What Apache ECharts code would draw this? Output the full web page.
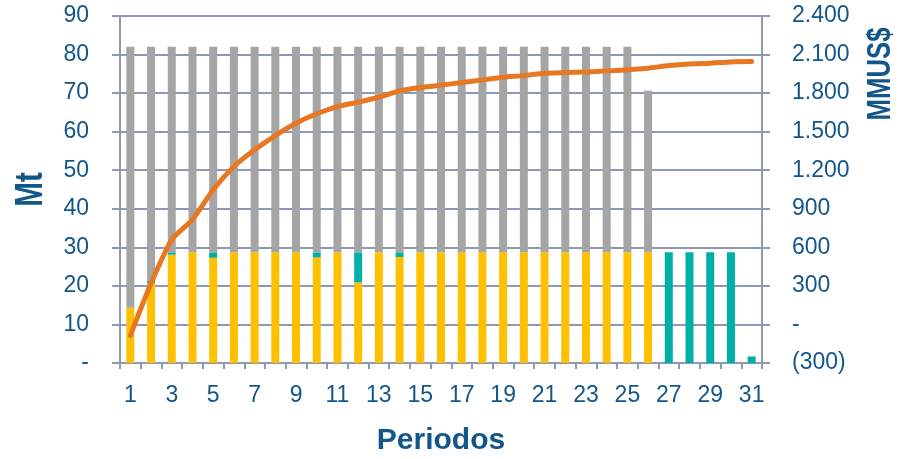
<!DOCTYPE html>
<html>
<head>
<meta charset="utf-8">
<script src="https://cdn.jsdelivr.net/npm/echarts@6/dist/echarts.min.js"></script>
<style>
html,body{margin:0;padding:0;background:#fff;}
#c{width:912px;height:459px;}
</style>
</head>
<body>
<div id="c"></div>
<script>
var periods = ['1','2','3','4','5','6','7','8','9','10','11','12','13','14','15','16','17','18','19','20','21','22','23','24','25','26','27','28','29','30','31'];
var yellowMt = [14.3,20.7,28.1,28.7,27.3,28.7,28.7,28.7,28.7,27.4,28.7,20.9,28.7,27.5,28.7,28.7,28.7,28.7,28.7,28.7,28.7,28.7,28.7,28.7,28.7,28.7,0,0,0,0,0];
var tealMt = [0,0.7,0.6,0,1.4,0,0,0,0,1.3,0,7.8,0,1.2,0,0,0,0,0,0,0,0,0,0,0,0,28.7,28.7,28.7,28.7,1.7];
var grayMt = [67.7,60.6,53.3,53.3,53.3,53.3,53.3,53.3,53.3,53.3,53.3,53.3,53.3,53.3,53.3,53.3,53.3,53.3,53.3,53.3,53.3,53.3,53.3,53.3,53.3,41.9,0,0,0,0,0];
var lineMMUS = [-85,320,660,815,1048,1229,1359,1470,1566,1639,1695,1730,1768,1817,1843,1862,1882,1903,1924,1936,1955,1960,1965,1973,1981,1994,2014,2027,2033,2043,2045];

var TXT = '#13568A';
var AX = '#8C99B2';
var FONT = "'Liberation Sans', Arial, sans-serif";

function fmtThousands(v){
  var a = Math.abs(v);
  var s = String(a).replace(/\B(?=(\d{3})+(?!\d))/g, '.');
  if (v === 0) return '-';
  return v < 0 ? '(' + s + ')' : s;
}

var chart = echarts.init(document.getElementById('c'), null, {renderer:'canvas'});
chart.setOption({
  animation:false,
  grid:{left:120, right:150, top:16, bottom:96, containLabel:false},
  xAxis:{
    type:'category', data:periods, boundaryGap:true,
    axisLine:{show:true, lineStyle:{color:AX, width:2}},
    axisTick:{show:true, interval:0, length:6, lineStyle:{color:AX, width:2}},
    axisLabel:{interval:1, color:TXT, fontFamily:FONT, fontSize:23, margin:21},
    splitLine:{show:false}
  },
  yAxis:[{
    type:'value', min:0, max:90, interval:10, position:'left',
    axisLine:{show:true, lineStyle:{color:AX, width:2}},
    axisTick:{show:true, length:8, lineStyle:{color:AX, width:2}},
    axisLabel:{color:TXT, fontFamily:FONT, fontSize:23, margin:31,
      formatter:function(v){return v===0?'-':String(v);}},
    splitLine:{show:true, lineStyle:{color:AX, width:2}}
  },{
    type:'value', min:-300, max:2400, interval:300, position:'right',
    axisLine:{show:true, lineStyle:{color:AX, width:2}},
    axisTick:{show:true, length:8, lineStyle:{color:AX, width:2}},
    axisLabel:{color:TXT, fontFamily:FONT, fontSize:23, margin:30, formatter:fmtThousands},
    splitLine:{show:false}
  }],
  graphic:[
    {type:'text', x:441, y:441, style:{text:'Periodos', fill:TXT, align:'center', verticalAlign:'middle', font:"bold 30px " + FONT}},
    {type:'text', x:32, y:189.5, rotation:Math.PI/2, scaleX:0.78, style:{text:'Mt', fill:TXT, align:'center', verticalAlign:'middle', font:"bold 38px " + FONT}},
    {type:'text', x:881, y:74, rotation:Math.PI/2, scaleX:0.78, style:{text:'MMUS$', fill:TXT, align:'center', verticalAlign:'middle', font:"bold 33px " + FONT}}
  ],
  series:[
    {name:'A', type:'bar', stack:'s', data:yellowMt, barWidth:8, itemStyle:{color:'#FFC000'}, yAxisIndex:0},
    {name:'B', type:'bar', stack:'s', data:tealMt, barWidth:8, itemStyle:{color:'#00B0A6'}, yAxisIndex:0},
    {name:'C', type:'bar', stack:'s', data:grayMt, barWidth:8, itemStyle:{color:'#A5A5A5'}, yAxisIndex:0},
    {name:'L', type:'line', data:lineMMUS, yAxisIndex:1, symbol:'none', smooth:0.2, z:5,
      lineStyle:{color:'#E87722', width:5, cap:'round', join:'round'}}
  ]
});
</script>
</body>
</html>
